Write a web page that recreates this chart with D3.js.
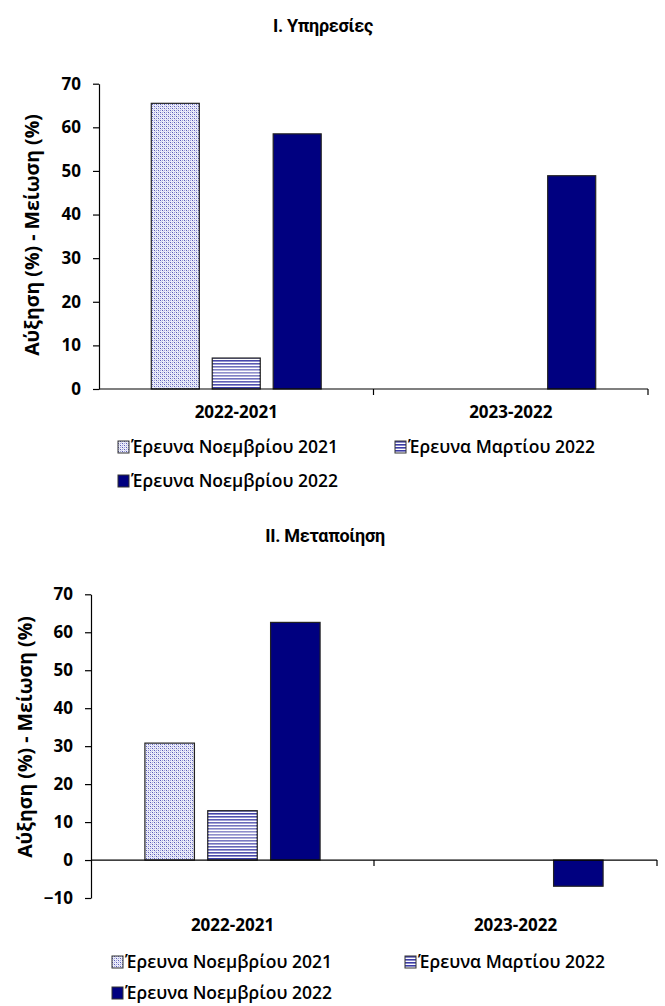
<!DOCTYPE html>
<html>
<head>
<meta charset="utf-8">
<script src="https://cdn.jsdelivr.net/npm/d3@7"></script>
<style>
  body { margin: 0; background: #fff; }
  svg { display: block; }
  .tick text { font-family: "Open Sans", sans-serif; font-weight: 700; font-size: 17px; fill: #000; }
  .cat-label { font-family: "Open Sans", sans-serif; font-weight: 700; font-size: 17px; }
  .y-title { font-family: "Open Sans", sans-serif; font-weight: 700; font-size: 19.5px; }
  .chart-title { font-family: "Liberation Sans Narrow", "Roboto", sans-serif; font-weight: 700; font-size: 18px; letter-spacing: -0.3px; }
  .legend-text { font-family: "Open Sans", sans-serif; font-weight: 600; font-size: 17.5px; }
</style>
</head>
<body>
<svg id="chart"></svg>
<script>
// categories and series
const categories = ["2022-2021", "2023-2022"];
const seriesNames = ["Έρευνα Νοεμβρίου 2021", "Έρευνα Μαρτίου 2022", "Έρευνα Νοεμβρίου 2022"];

// I. Υπηρεσίες (one array per series, one value per category)
const servicesNov2021 = [65.5, null];
const servicesMar2022 = [7.1, null];
const servicesNov2022 = [58.5, 48.9];

// II. Μεταποίηση
const manufNov2021 = [30.8, null];
const manufMar2022 = [13.0, null];
const manufNov2022 = [62.6, -6.9];

const yTicks1 = [0, 10, 20, 30, 40, 50, 60, 70];
const yTicks2 = [-10, 0, 10, 20, 30, 40, 50, 60, 70];

const yTitle = "Αύξηση (%) - Μείωση (%)";

const width = 665;
const height = 1006;

const svg = d3.select("#chart")
  .attr("width", width)
  .attr("height", height)
  .attr("viewBox", [0, 0, width, height]);

// μοτίβα γεμίσματος
const defs = svg.append("defs");

const dots = defs.append("pattern")
  .attr("id", "pat-dots")
  .attr("patternUnits", "userSpaceOnUse")
  .attr("width", 4).attr("height", 4);
dots.append("rect").attr("width", 4).attr("height", 4).attr("fill", "#eceefa");
[[0, 0, "#5a5ab8"], [2, 2, "#5a5ab8"], [2, 0, "#a0a0d8"], [0, 2, "#a0a0d8"], [1, 1, "#d0d0ee"], [3, 3, "#d0d0ee"]].forEach(([px, py, c]) => {
  dots.append("rect").attr("x", px).attr("y", py).attr("width", 1).attr("height", 1).attr("fill", c);
});

const stripes = defs.append("pattern")
  .attr("id", "pat-stripes")
  .attr("patternUnits", "userSpaceOnUse")
  .attr("width", 4).attr("height", 3);
stripes.append("rect").attr("width", 4).attr("height", 3).attr("fill", "#ffffff");
stripes.append("rect").attr("width", 4).attr("height", 1.6).attr("fill", "#3c3ca6");

const glow = defs.append("linearGradient")
  .attr("id", "stripe-glow")
  .attr("x1", "0%").attr("y1", "0%")
  .attr("x2", "0%").attr("y2", "100%");
glow.selectAll("stop")
  .data([
    {offset: "0%", opacity: 0},
    {offset: "45%", opacity: 0.45},
    {offset: "100%", opacity: 0}
  ])
  .enter().append("stop")
  .attr("offset", d => d.offset)
  .attr("stop-color", "#ffffff")
  .attr("stop-opacity", d => d.opacity);

const fills = ["url(#pat-dots)", "url(#pat-stripes)", "#000080"];

function drawChart(cfg) {
  const g = svg.append("g");

  const x0 = d3.scaleBand(categories, [cfg.left, cfg.right]);
  const bw = x0.bandwidth();
  const x1 = d3.scaleBand(seriesNames, [-0.3095 * bw, 0.3095 * bw]).paddingInner(0.212);
  const y = d3.scaleLinear(cfg.domain, [cfg.bottom, cfg.top]);

  // τίτλος
  g.append("text")
    .attr("class", "chart-title")
    .attr("x", cfg.titleX)
    .attr("y", cfg.titleY)
    .attr("text-anchor", "middle")
    .attr("dominant-baseline", "middle")
    .text(cfg.title);

  // ράβδοι
  const rows = cfg.series.flatMap((vals, si) =>
    vals.map((v, ci) => ({series: seriesNames[si], si, cat: categories[ci], value: v}))
  ).filter(d => d.value != null);

  const bars = g.selectAll(".bar")
    .data(rows)
    .enter().append("g")
    .attr("class", "bar");

  bars.append("rect")
    .attr("x", d => x0(d.cat) + bw / 2 + x1(d.series))
    .attr("y", d => y(Math.max(0, d.value)))
    .attr("width", x1.bandwidth())
    .attr("height", d => Math.abs(y(d.value) - y(0)))
    .attr("fill", d => fills[d.si])
    .attr("stroke", "#222")
    .attr("stroke-width", 1.2);

  bars.filter(d => d.si === 1).append("rect")
    .attr("x", d => x0(d.cat) + bw / 2 + x1(d.series) + 1)
    .attr("y", d => y(Math.max(0, d.value)) + 1)
    .attr("width", x1.bandwidth() - 2)
    .attr("height", d => Math.abs(y(d.value) - y(0)) - 2)
    .attr("fill", "url(#stripe-glow)");

  // άξονας Y
  const yAxis = g.append("g")
    .attr("transform", `translate(${cfg.left},0)`)
    .call(d3.axisLeft(y).tickValues(cfg.ticks).tickSize(6).tickSizeOuter(0).tickPadding(12));
  yAxis.select(".domain").attr("stroke", "#000").attr("stroke-width", 1.2);
  yAxis.selectAll(".tick line").attr("stroke", "#000").attr("stroke-width", 1.2);

  // άξονας X στο μηδέν
  const xa = g.append("g").attr("transform", `translate(0,${y(0)})`);
  xa.append("line")
    .attr("x1", cfg.left).attr("x2", cfg.right)
    .attr("stroke", "#000").attr("stroke-width", 1.2);
  xa.selectAll(".xtick")
    .data(categories)
    .enter().append("line")
    .attr("class", "xtick")
    .attr("x1", d => x0(d) + bw).attr("x2", d => x0(d) + bw)
    .attr("y1", 0).attr("y2", 6)
    .attr("stroke", "#000").attr("stroke-width", 1.2);

  // ετικέτες κατηγοριών
  g.selectAll(".cat-label")
    .data(categories)
    .enter().append("text")
    .attr("class", "cat-label")
    .attr("x", d => x0(d) + bw / 2)
    .attr("y", cfg.catY)
    .attr("text-anchor", "middle")
    .attr("dominant-baseline", "middle")
    .text(d => d);

  // τίτλος άξονα Y
  g.append("text")
    .attr("class", "y-title")
    .attr("transform", `translate(${cfg.yTitleX},${cfg.yTitleY}) rotate(-90)`)
    .attr("text-anchor", "middle")
    .attr("dominant-baseline", "middle")
    .text(yTitle);

  // υπόμνημα
  const legendPos = [
    [cfg.legX1, cfg.legY1],
    [cfg.legX2, cfg.legY1],
    [cfg.legX1, cfg.legY2]
  ];
  const leg = g.selectAll(".legend")
    .data(seriesNames)
    .enter().append("g")
    .attr("class", "legend")
    .attr("transform", (d, i) => `translate(${legendPos[i][0]},${legendPos[i][1]})`);
  leg.append("rect")
    .attr("x", 0).attr("y", -6)
    .attr("width", 11).attr("height", 12)
    .attr("fill", (d, i) => fills[i])
    .attr("stroke", "#333").attr("stroke-width", 1);
  leg.append("text")
    .attr("class", "legend-text")
    .attr("x", 13)
    .attr("y", 1)
    .attr("dominant-baseline", "middle")
    .text(d => d);
}

drawChart({
  title: "I. Υπηρεσίες",
  titleX: 323, titleY: 27,
  series: [servicesNov2021, servicesMar2022, servicesNov2022],
  domain: [0, 70], ticks: yTicks1,
  left: 99, right: 648, top: 83.7, bottom: 389,
  catY: 413,
  yTitleX: 34, yTitleY: 235,
  legX1: 118, legX2: 395, legY1: 447, legY2: 481
});

drawChart({
  title: "II. Μεταποίηση",
  titleX: 325, titleY: 537,
  series: [manufNov2021, manufMar2022, manufNov2022],
  domain: [-10, 70], ticks: yTicks2,
  left: 91, right: 657, top: 594.3, bottom: 898,
  catY: 926,
  yTitleX: 27, yTitleY: 737,
  legX1: 112, legX2: 405, legY1: 962, legY2: 993
});
</script>
</body>
</html>
